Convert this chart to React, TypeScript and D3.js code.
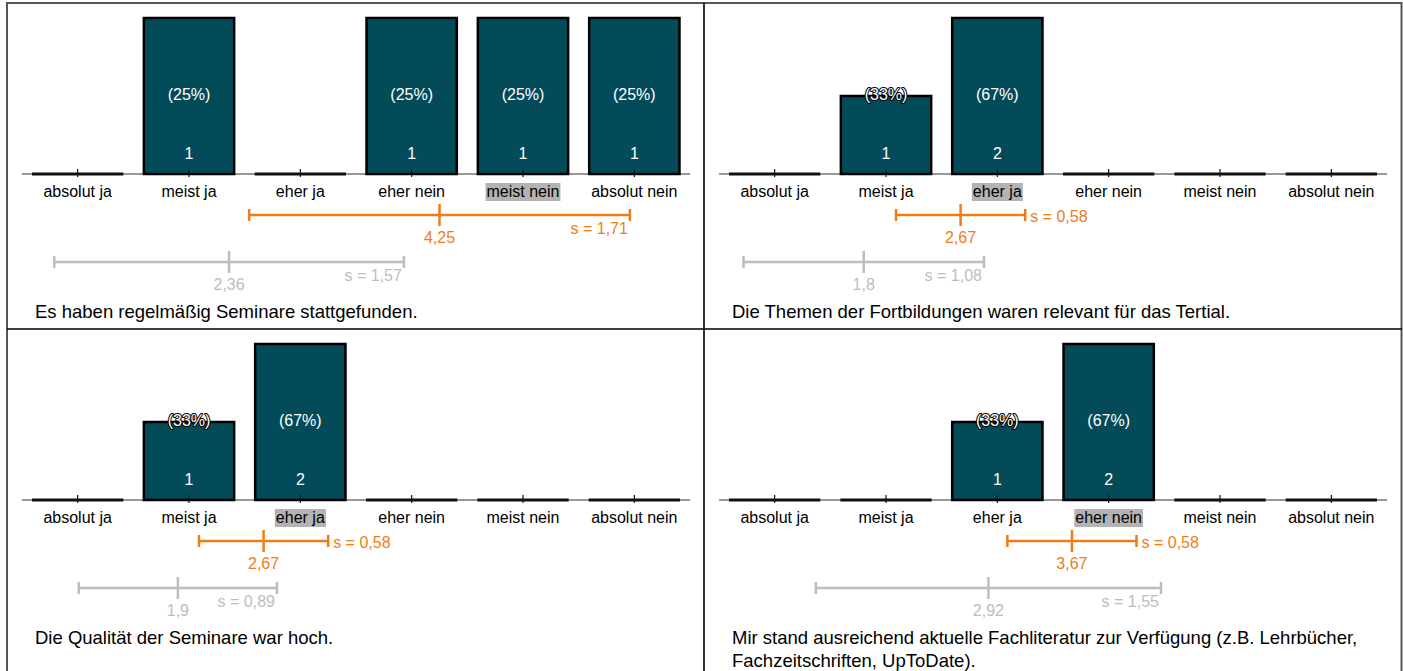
import React, { useRef, useEffect } from 'react';
import * as d3 from 'd3';

const categories = ['absolut ja', 'meist ja', 'eher ja', 'eher nein', 'meist nein', 'absolut nein'];
const titles = [
  'Es haben regelmäßig Seminare stattgefunden.',
  'Die Themen der Fortbildungen waren relevant für das Tertial.',
  'Die Qualität der Seminare war hoch.',
  'Mir stand ausreichend aktuelle Fachliteratur zur Verfügung (z.B. Lehrbücher, Fachzeitschriften, UpToDate).',
];
const counts = [
  [0, 1, 0, 1, 1, 1],
  [0, 1, 2, 0, 0, 0],
  [0, 1, 2, 0, 0, 0],
  [0, 0, 1, 2, 0, 0],
];
const medians = ['meist nein', 'eher ja', 'eher ja', 'eher nein'];
const means = [4.25, 2.67, 2.67, 3.67];
const sds = [1.71, 0.58, 0.58, 0.58];
const refMeans = [2.36, 1.8, 1.9, 2.92];
const refSds = [1.57, 1.08, 0.89, 1.55];

const FONT = '"Liberation Sans", Arial, Helvetica, sans-serif';
const TEAL = '#034b59';
const ORANGE = '#ef7d15';
const GREY = '#bdbdbd';

const fmt = (v: number) => String(v).replace('.', ',');

const App = () => {
  const ref = useRef<SVGSVGElement>(null);

  useEffect(() => {
    const svg = d3.select(ref.current);
    svg.selectAll('*').remove();

    const panelW = 697, panelH = 326;
    const base = 171;
    const x = d3.scaleBand<string>()
      .domain(categories)
      .range([15, 683])
      .paddingInner(0.18)
      .paddingOuter(0.09);
    const bw = x.bandwidth();
    const cx = (c: string) => (x(c) as number) + bw / 2;
    const xv = d3.scaleLinear().domain([1, 6]).range([cx(categories[0]), cx(categories[5])]);

    const errBar = (g: any, mean: number, sd: number, y: number, color: string) => {
      const x0 = xv(mean - sd), x1 = xv(mean + sd), xm = xv(mean);
      const eg = g.append('g').attr('stroke', color).attr('stroke-width', 2.5);
      eg.append('line').attr('x1', x0).attr('x2', x1).attr('y1', y).attr('y2', y);
      eg.append('line').attr('x1', x0).attr('x2', x0).attr('y1', y - 6).attr('y2', y + 6);
      eg.append('line').attr('x1', x1).attr('x2', x1).attr('y1', y - 6).attr('y2', y + 6);
      eg.append('line').attr('x1', xm).attr('x2', xm).attr('y1', y - 11).attr('y2', y + 11);
      g.append('text')
        .attr('x', xm).attr('y', y + 28)
        .attr('text-anchor', 'middle')
        .attr('fill', color)
        .attr('font-size', 16)
        .text(fmt(mean));
      const below = x1 - x0 > 150;
      g.append('text')
        .attr('x', below ? x1 - 2 : x1 + 5)
        .attr('y', below ? y + 19 : y + 7)
        .attr('text-anchor', below ? 'end' : 'start')
        .attr('fill', color)
        .attr('font-size', 16)
        .text(`s = ${fmt(sd)}`);
    };

    counts.forEach((cs, i) => {
      const col = i % 2, row = Math.floor(i / 2);
      const g = svg.append('g')
        .attr('font-family', FONT)
        .attr('transform', `translate(${7 + col * panelW},${3 + row * panelH})`);
      const total = d3.sum(cs);
      const y = d3.scaleLinear().domain([0, d3.max(cs) as number]).range([base, 15]);

      // axis line
      g.append('line')
        .attr('x1', 15).attr('x2', 683)
        .attr('y1', base).attr('y2', base)
        .attr('stroke', '#333').attr('stroke-width', 1.2);

      // bars
      categories.forEach((c, j) => {
        const v = cs[j];
        if (v > 0) {
          g.append('rect')
            .attr('x', (x(c) as number) + 0.5).attr('y', y(v))
            .attr('width', bw - 1).attr('height', base - y(v))
            .attr('fill', TEAL).attr('stroke', '#000').attr('stroke-width', 2.5);
        } else {
          g.append('line')
            .attr('x1', x(c) as number).attr('x2', (x(c) as number) + bw)
            .attr('y1', base).attr('y2', base)
            .attr('stroke', '#111').attr('stroke-width', 3);
        }
      });

      // ticks
      categories.forEach(c => {
        g.append('line')
          .attr('x1', cx(c)).attr('x2', cx(c))
          .attr('y1', base - 5).attr('y2', base + 3)
          .attr('stroke', '#111').attr('stroke-width', 1.2);
      });

      // bar labels
      categories.forEach((c, j) => {
        const v = cs[j];
        if (v <= 0) return;
        const pct = g.append('text')
          .attr('x', cx(c)).attr('y', 97)
          .attr('text-anchor', 'middle')
          .attr('font-size', 16)
          .attr('fill', '#fff')
          .text(`(${Math.round((v / total) * 100)}%)`);
        if (y(v) > 84) {
          pct.attr('stroke', '#000').attr('stroke-width', 2).attr('paint-order', 'stroke').attr('stroke-linejoin', 'round');
        }
        g.append('text')
          .attr('x', cx(c)).attr('y', 156)
          .attr('text-anchor', 'middle')
          .attr('font-size', 16)
          .attr('fill', '#fff')
          .text(v);
      });

      // category labels
      categories.forEach(c => {
        const t = g.append('text')
          .attr('x', cx(c)).attr('y', 194)
          .attr('text-anchor', 'middle')
          .attr('font-size', 16)
          .attr('fill', '#000')
          .text(c);
        if (c === medians[i]) {
          const bb = (t.node() as SVGTextElement).getBBox();
          g.insert('rect', () => t.node())
            .attr('x', bb.x - 1).attr('y', bb.y)
            .attr('width', bb.width + 2).attr('height', bb.height + 1)
            .attr('fill', '#b3b3b3');
        }
      });

      errBar(g, means[i], sds[i], 212, ORANGE);
      errBar(g, refMeans[i], refSds[i], 259, GREY);

      // title with wrapping
      const title = g.append('text')
        .attr('x', 28).attr('y', 315)
        .attr('font-size', 18.5)
        .attr('fill', '#000');
      const words = titles[i].split(' ');
      let line: string[] = [];
      let tspan = title.append('tspan').attr('x', 28).attr('dy', 0);
      words.forEach(w => {
        line.push(w);
        tspan.text(line.join(' '));
        if ((tspan.node() as SVGTSpanElement).getComputedTextLength() > 650 && line.length > 1) {
          line.pop();
          tspan.text(line.join(' '));
          line = [w];
          tspan = title.append('tspan').attr('x', 28).attr('dy', 23).text(w);
        }
      });
    });

    // frame and dividers
    svg.append('rect')
      .attr('x', 7).attr('y', 3)
      .attr('width', 1394.5).attr('height', 800)
      .attr('fill', 'none').attr('stroke', '#555').attr('stroke-width', 2);
    svg.append('line')
      .attr('x1', 704).attr('x2', 704).attr('y1', 3).attr('y2', 800)
      .attr('stroke', '#000').attr('stroke-width', 1.6);
    svg.append('line')
      .attr('x1', 7).attr('x2', 1402).attr('y1', 329).attr('y2', 329)
      .attr('stroke', '#000').attr('stroke-width', 1.6);
  }, []);

  return (
    <svg
      ref={ref}
      width={1403}
      height={671}
      style={{ position: 'absolute', left: 0, top: 0, background: '#fff' }}
    />
  );
};

export default App;
